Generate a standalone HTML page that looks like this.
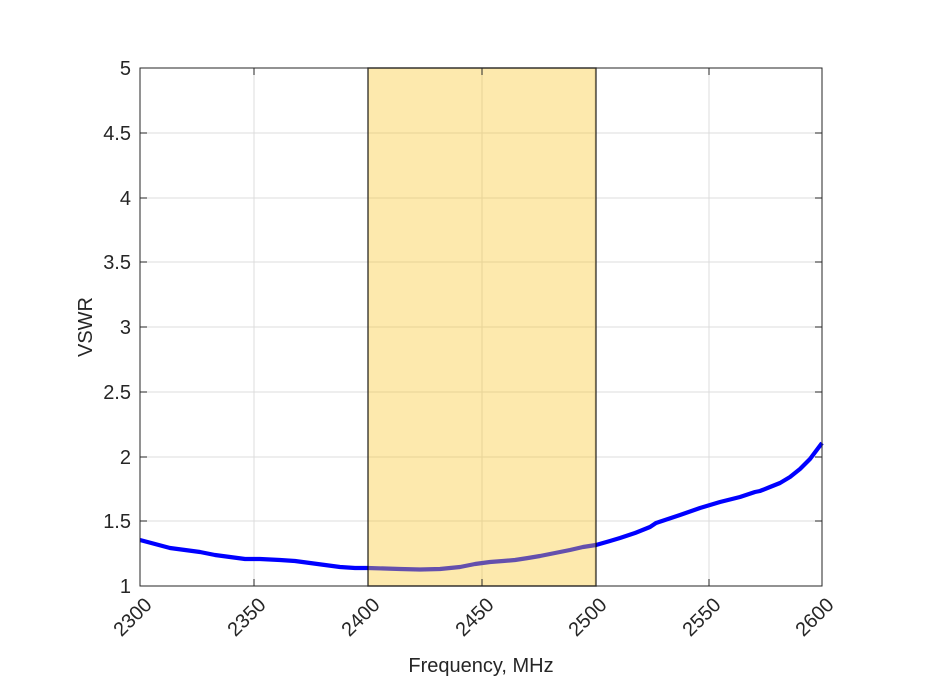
<!DOCTYPE html>
<html><head><style>body{margin:0;background:#fff}svg{display:block}</style></head><body>
<svg width="933" height="700" viewBox="0 0 933 700" font-family="Liberation Sans, sans-serif">
<rect width="933" height="700" fill="#fff"/>
<g stroke="#dcdcdc" stroke-width="1">
<line x1="254" y1="68" x2="254" y2="586"/><line x1="368" y1="68" x2="368" y2="586"/><line x1="482" y1="68" x2="482" y2="586"/><line x1="595" y1="68" x2="595" y2="586"/><line x1="709" y1="68" x2="709" y2="586"/>
<line x1="140" y1="521" x2="822" y2="521"/><line x1="140" y1="457" x2="822" y2="457"/><line x1="140" y1="392" x2="822" y2="392"/><line x1="140" y1="327" x2="822" y2="327"/><line x1="140" y1="262" x2="822" y2="262"/><line x1="140" y1="198" x2="822" y2="198"/><line x1="140" y1="133" x2="822" y2="133"/>
</g>
<polyline fill="none" stroke="#0000ff" stroke-width="4.2" stroke-linejoin="round" points="140,540 155,544 170,548 185,550 200,552 215,555 230,557 245,559 260,559 280,560 295,561 310,563 325,565 340,567 355,568 368,568 400,569 420,569.5 440,569 450,568 460,567 475,564 490,562 503,561 515,560 528,558 540,556 555,553 570,550 583,547 596,545 610,541 620,538 635,533 650,527 656,523 668,519 680,515 700,508 720,502 740,497 755,492 760,491 770,487 780,483 790,477 800,469 810,459 822,443"/>
<rect x="368" y="68" width="228" height="518" fill="rgba(251,200,50,0.4)" stroke="rgba(0,0,0,0.7)" stroke-width="1.5"/>
<rect x="140" y="68" width="682" height="518" fill="none" stroke="#262626" stroke-width="1"/>
<g stroke="#262626" stroke-width="1">
<line x1="254" y1="586" x2="254" y2="579"/><line x1="482" y1="586" x2="482" y2="579"/><line x1="709" y1="586" x2="709" y2="579"/>
<line x1="254" y1="68" x2="254" y2="75"/><line x1="482" y1="68" x2="482" y2="75"/><line x1="709" y1="68" x2="709" y2="75"/>
<line x1="140" y1="521" x2="147" y2="521"/><line x1="140" y1="457" x2="147" y2="457"/><line x1="140" y1="392" x2="147" y2="392"/><line x1="140" y1="327" x2="147" y2="327"/><line x1="140" y1="262" x2="147" y2="262"/><line x1="140" y1="198" x2="147" y2="198"/><line x1="140" y1="133" x2="147" y2="133"/>
<line x1="822" y1="521" x2="815" y2="521"/><line x1="822" y1="457" x2="815" y2="457"/><line x1="822" y1="392" x2="815" y2="392"/><line x1="822" y1="327" x2="815" y2="327"/><line x1="822" y1="262" x2="815" y2="262"/><line x1="822" y1="198" x2="815" y2="198"/><line x1="822" y1="133" x2="815" y2="133"/>
</g>
<g fill="#262626" font-size="20" text-anchor="end">
<text x="131" y="593">1</text><text x="131" y="528">1.5</text><text x="131" y="464">2</text><text x="131" y="399">2.5</text><text x="131" y="334">3</text><text x="131" y="269">3.5</text><text x="131" y="205">4</text><text x="131" y="140">4.5</text><text x="131" y="75">5</text>
<text transform="translate(153,606) rotate(-45)">2300</text>
<text transform="translate(267,606) rotate(-45)">2350</text>
<text transform="translate(381,606) rotate(-45)">2400</text>
<text transform="translate(495,606) rotate(-45)">2450</text>
<text transform="translate(608,606) rotate(-45)">2500</text>
<text transform="translate(722,606) rotate(-45)">2550</text>
<text transform="translate(835,606) rotate(-45)">2600</text>
</g>
<text x="481" y="672" font-size="20" fill="#262626" text-anchor="middle">Frequency, MHz</text>
<text transform="translate(92,327) rotate(-90)" font-size="20" fill="#262626" text-anchor="middle">VSWR</text>
</svg>
</body></html>
